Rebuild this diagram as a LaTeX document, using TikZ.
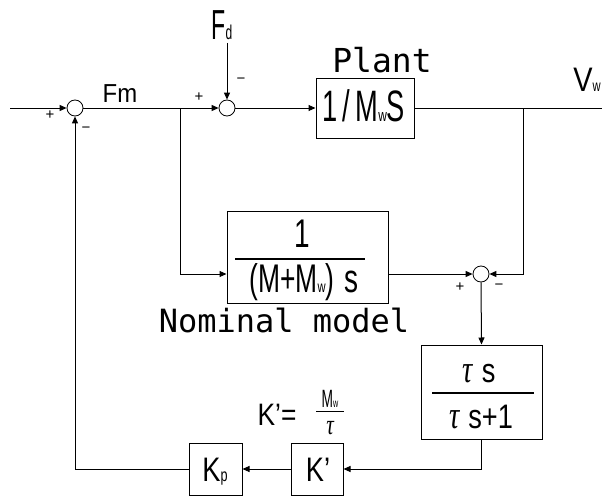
\documentclass[tikz,border=0pt]{standalone}
\usepackage{fontspec}
\usepackage{graphicx}
\setmainfont{Liberation Sans}
\newfontfamily\mono{DejaVu Sans Mono}
\newfontfamily\serifit{Liberation Serif}
\usetikzlibrary{arrows.meta}
\newcommand\tx[3]{\scalebox{#1}[1]{\fontsize{#2}{#2}\selectfont #3}}
\newcommand\tauch[1]{\scalebox{0.95}[1.3]{\fontsize{#1}{#1}\selectfont\serifit\itshape τ}}
\tikzset{
  ln/.style={line width=1pt},
  arr/.style={line width=1pt,-{Triangle[length=7pt,width=6pt]}},
  sumc/.style={circle,draw,line width=0.8pt,minimum size=16pt,inner sep=0pt},
  blk/.style={draw,line width=1pt,inner sep=0pt},
  txt/.style={inner sep=0pt},
  sgn/.style={inner sep=0pt,font=\fontsize{15}{15}\selectfont},
}
\begin{document}
\begin{tikzpicture}[x=1pt,y=-1pt]
\useasboundingbox (0,0) rectangle (602,495);
% summing junctions
\node[sumc] (s1) at (75,108) {};
\node[sumc] (s2) at (227,108) {};
\node[sumc] (s3) at (481,274) {};
% blocks
\node[blk,minimum width=98pt,minimum height=60pt] (plant) at (365,108) {};
\node[blk,minimum width=161pt,minimum height=92pt] (nom) at (307.5,257) {};
\node[blk,minimum width=121pt,minimum height=94pt] (hp) at (481.5,392) {};
\node[blk,minimum width=52pt,minimum height=52pt] (kq) at (317,469) {};
\node[blk,minimum width=53pt,minimum height=52pt] (kp) at (215.5,469) {};
% coordinates
\coordinate (in) at (10,108);
\coordinate (out) at (602,108);
\coordinate (b1) at (180,108);
\coordinate (b2) at (523,108);
\coordinate (fdt) at (227,43);
% connectors
\draw[arr] (in) -- (s1.west);
\draw[arr] (s1.east) -- (s2.west);
\draw[arr] (s2.east) -- (plant.west);
\draw[ln] (plant.east) -- (out);
\draw[arr] (fdt) -- (s2.north);
\draw[arr] (b1) |- (nom.west |- s3);
\draw[arr] (nom.east |- s3) -- (s3.west);
\draw[arr] (b2) |- (s3.east);
\draw[arr] (s3.south) -- (hp.north);
\draw[arr] (hp.south) |- (kq.east);
\draw[arr] (kq.west) -- (kp.east);
\draw[arr] (kp.west) -| (s1.south);
% signs
\node[sgn] (p1) at (50,115) {+};
\node[sgn] (m1) at (86,130) {−};
\node[sgn] (p2) at (199,97) {+};
\node[sgn] (m2) at (241,81) {−};
\node[sgn] (p3) at (460,287) {+};
\node[sgn] (m3) at (499,287) {−};
% labels
\node[txt,anchor=base] (fd) at (222,40) {\tx{0.55}{42}{F}\tx{0.6}{20}{d}};
\node[txt,anchor=base] (fm) at (120,102) {\tx{0.92}{26}{Fm}};
\node[txt,anchor=base] (vw) at (587,92) {\tx{0.85}{34}{V}\tx{0.7}{16}{w}};
\node[txt,anchor=base] (plantl) at (382,73) {\mono\fontsize{33}{33}\selectfont Plant};
\node[txt,anchor=base] (noml) at (284,332) {\mono\fontsize{32}{32}\selectfont Nominal model};
% plant content
\node[txt,anchor=base] (pt) at (364,121) {\tx{0.62}{44}{1}\hspace{4pt}\tx{0.62}{44}{/}\hspace{6pt}\tx{0.62}{44}{M}\tx{0.7}{17}{w}\tx{0.62}{44}{S}};
% nominal fraction
\node[txt,anchor=base] (n1) at (302,247) {\tx{0.7}{40}{1}};
\draw[line width=1.3pt] (235,259) -- (365,259);
\node[txt,anchor=base] (n2) at (304,292) {\tx{0.66}{40}{(M+M}\tx{0.7}{16}{w}\tx{0.66}{40}{)}\hspace{10pt}\tx{0.7}{40}{s}};
% high-pass fraction
\node[txt,anchor=base] (h1) at (479,382) {\tauch{30}\hspace{9pt}\tx{0.8}{34}{s}};
\draw[line width=1.3pt] (432,393) -- (534,393);
\node[txt,anchor=base] (h2) at (481,428) {\tauch{30}\hspace{9pt}\tx{0.8}{34}{s+1}};
% gains
\node[txt,anchor=base] (kpl) at (215,481) {\tx{0.8}{34}{K}\tx{0.7}{18}{p}};
\node[txt,anchor=base] (kql) at (318,481) {\tx{0.8}{34}{K'}};
\node[txt,anchor=base] (kdef) at (277,425) {\tx{0.85}{31}{K'=}};
\node[txt,anchor=base,text height=17pt,text depth=0pt] (kmw) at (330,407) {\tx{0.55}{25}{M}\tx{0.6}{12}{w}};
\draw[line width=1pt] (316,411) -- (344,411);
\node[txt,anchor=base,text height=16pt,text depth=3pt] (ktau) at (330,434) {\tauch{22}};
\end{tikzpicture}
\end{document}
